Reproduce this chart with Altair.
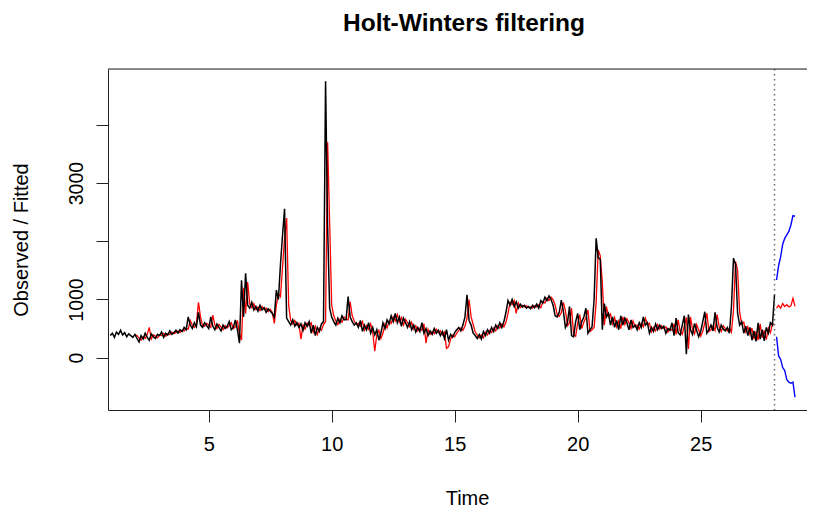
import altair as alt
import pandas as pd

# ---- data (monthly series, years 1..28) ----
obs_y1 = [380, 420, 350, 440, 400, 470, 390, 430, 360, 410, 380, 350]
obs_y2 = [400, 330, 270, 380, 320, 420, 350, 300, 410, 360, 330, 400]
obs_y3 = [380, 440, 350, 420, 390, 460, 400, 430, 470, 420, 480, 450]
obs_y4 = [520, 480, 700, 560, 500, 600, 530, 780, 560, 520, 600, 550]
obs_y5 = [500, 700, 540, 480, 580, 520, 460, 560, 500, 540, 620, 480]
obs_y6 = [520, 650, 480, 250, 1330, 700, 1450, 900, 850, 950, 820, 880]
obs_y7 = [800, 900, 820, 860, 780, 840, 800, 760, 700, 1160, 1000, 1600]
obs_y8 = [2100, 2560, 680, 620, 560, 650, 540, 600, 520, 580, 470, 600]
obs_y9 = [540, 620, 420, 560, 380, 520, 450, 580, 620, 4750, 2250, 850]
obs_y10 = [700, 620, 560, 680, 600, 720, 650, 650, 1050, 700, 620, 560]
obs_y11 = [600, 520, 640, 450, 560, 480, 600, 420, 520, 390, 480, 300]
obs_y12 = [420, 600, 500, 650, 580, 720, 620, 760, 600, 700, 540, 680]
obs_y13 = [600, 520, 620, 480, 560, 440, 520, 450, 600, 420, 500, 380]
obs_y14 = [460, 400, 500, 420, 470, 380, 450, 330, 480, 300, 400, 350]
obs_y15 = [430, 480, 520, 460, 560, 700, 1080, 640, 560, 420, 380, 330]
obs_y16 = [400, 320, 450, 380, 480, 420, 520, 450, 560, 500, 600, 520]
obs_y17 = [620, 780, 980, 900, 1000, 880, 960, 850, 920, 870, 900, 850]
obs_y18 = [880, 840, 900, 860, 920, 850, 980, 940, 1040, 980, 1060, 1000]
obs_y19 = [900, 720, 700, 780, 990, 800, 520, 600, 880, 380, 360, 620]
obs_y20 = [760, 480, 620, 700, 850, 420, 480, 530, 1000, 2050, 1720, 1690]
obs_y21 = [480, 930, 700, 760, 560, 700, 520, 640, 480, 720, 560, 680]
obs_y22 = [600, 480, 650, 520, 560, 480, 600, 520, 700, 560, 600, 420]
obs_y23 = [520, 450, 580, 480, 560, 500, 540, 420, 500, 470, 600, 380]
obs_y24 = [680, 430, 390, 560, 720, 60, 740, 480, 400, 590, 470, 360]
obs_y25 = [450, 620, 790, 420, 480, 560, 460, 780, 520, 440, 560, 490]
obs_y26 = [460, 520, 420, 880, 1710, 1600, 760, 560, 620, 420, 540, 380]
obs_y27 = [520, 300, 460, 280, 600, 320, 480, 290, 520, 420, 600, 560]
obs_y28 = [1080]

fit_y2 = [390, 380, 340, 300, 360, 330, 400, 520, 320, 390, 370, 340]
fit_y3 = [390, 380, 420, 370, 410, 400, 440, 410, 430, 460, 430, 470]
fit_y4 = [460, 500, 490, 640, 560, 520, 580, 950, 700, 550, 540, 590]
fit_y5 = [560, 520, 730, 560, 500, 570, 530, 480, 550, 510, 550, 600]
fit_y6 = [500, 530, 640, 420, 300, 1200, 760, 1300, 920, 860, 930, 830]
fit_y7 = [870, 810, 880, 830, 850, 790, 830, 780, 590, 900, 1100, 1050]
fit_y8 = [1550, 2050, 2400, 900, 640, 580, 640, 560, 590, 320, 560, 490]
fit_y9 = [590, 550, 600, 440, 540, 400, 510, 470, 570, 620, 3700, 2300]
fit_y10 = [900, 720, 630, 570, 660, 610, 700, 660, 650, 960, 720, 630]
fit_y11 = [570, 590, 540, 620, 470, 550, 490, 580, 440, 110, 400, 470]
fit_y12 = [330, 420, 580, 510, 630, 590, 700, 630, 740, 610, 690, 560]
fit_y13 = [660, 600, 530, 610, 490, 550, 460, 510, 470, 580, 250, 490]
fit_y14 = [400, 450, 410, 490, 430, 460, 390, 440, 160, 190, 320, 390]
fit_y15 = [360, 420, 470, 510, 470, 540, 680, 1000, 700, 570, 440, 390]
fit_y16 = [340, 390, 340, 440, 390, 470, 430, 510, 460, 550, 510, 580]
fit_y17 = [530, 610, 760, 950, 910, 980, 760, 940, 860, 900, 870, 890]
fit_y18 = [860, 870, 850, 890, 870, 910, 860, 960, 940, 1020, 980, 1040]
fit_y19 = [1000, 900, 740, 710, 770, 950, 810, 550, 600, 850, 400, 370]
fit_y20 = [600, 740, 500, 610, 690, 820, 450, 480, 520, 950, 1850, 1750]
fit_y21 = [1300, 560, 880, 710, 750, 580, 690, 530, 630, 500, 700, 570]
fit_y22 = [670, 600, 500, 630, 530, 560, 490, 590, 530, 680, 570, 590]
fit_y23 = [440, 520, 460, 570, 490, 550, 500, 530, 440, 500, 470, 580]
fit_y24 = [400, 650, 450, 400, 550, 690, 150, 700, 490, 410, 570, 480]
fit_y25 = [370, 450, 600, 760, 450, 480, 550, 470, 740, 530, 450, 550]
fit_y26 = [500, 460, 510, 440, 820, 1650, 1500, 780, 580, 610, 440, 530]
fit_y27 = [400, 510, 320, 450, 300, 580, 340, 470, 310, 510, 430, 580]
fit_y28 = [570]

pred_fit = [850, 900, 850, 930, 880, 910, 870, 890, 1020, 880]
pred_upr = [1335, 1580, 1735, 1950, 2050, 2110, 2170, 2280, 2440, 2430]
pred_lwr = [360, 30, -30, -170, -220, -380, -420, -440, -420, -680]

x_ticks = [5, 10, 15, 20, 25]
y_ticks = [0, 1000, 2000, 3000, 4000]
y_labelled = [0, 1000, 3000]
forecast_start = 28.0
freq = 12

obs_years = [obs_y1, obs_y2, obs_y3, obs_y4, obs_y5, obs_y6, obs_y7, obs_y8, obs_y9,
             obs_y10, obs_y11, obs_y12, obs_y13, obs_y14, obs_y15, obs_y16, obs_y17,
             obs_y18, obs_y19, obs_y20, obs_y21, obs_y22, obs_y23, obs_y24, obs_y25,
             obs_y26, obs_y27, obs_y28]
fit_years = [fit_y2, fit_y3, fit_y4, fit_y5, fit_y6, fit_y7, fit_y8, fit_y9, fit_y10,
             fit_y11, fit_y12, fit_y13, fit_y14, fit_y15, fit_y16, fit_y17, fit_y18,
             fit_y19, fit_y20, fit_y21, fit_y22, fit_y23, fit_y24, fit_y25, fit_y26,
             fit_y27, fit_y28]


def to_frame(years, first_year):
    rows = []
    for yi, vals in enumerate(years):
        for m, v in enumerate(vals):
            rows.append({"t": first_year + yi + m / freq, "v": v})
    return pd.DataFrame(rows)


obs_df = to_frame(obs_years, 1)
fit_df = to_frame(fit_years, 2)
pred_df = pd.DataFrame({
    "t": [forecast_start + (k + 1) / freq for k in range(len(pred_fit))],
    "fit": pred_fit, "upr": pred_upr, "lwr": pred_lwr,
})

FONT = "Liberation Sans"
W, H = 699, 341
xscale = alt.Scale(domain=[0.906, 29.321], nice=False, zero=False)
yscale = alt.Scale(domain=[-899, 4960], nice=False, zero=False)

label_test = " || ".join(f"datum.value == {v}" for v in y_labelled)

xaxis = alt.Axis(values=x_ticks, title="Time", grid=False, tickSize=12,
                 labelFontSize=20, titleFontSize=20, titleFontWeight="normal",
                 labelFont=FONT, titleFont=FONT, labelColor="black", titleColor="black",
                 domainColor="#222", tickColor="#222", labelPadding=12,
                 titlePadding=34, titleX=359, labelFlush=False)
yaxis = alt.Axis(values=y_ticks, title="Observed / Fitted", grid=False, tickSize=12,
                 labelExpr=f"({label_test}) ? datum.label : ''", format="d",
                 labelAngle=270, labelAlign="center", labelBaseline="bottom",
                 labelFontSize=19.5, titleFontSize=20, titleFontWeight="normal",
                 labelFont=FONT, titleFont=FONT, labelColor="black", titleColor="black",
                 domainColor="#222", tickColor="#222", labelPadding=10,
                 titlePadding=35, labelFlush=False)

fit_line = alt.Chart(fit_df).mark_line(color="#FF0000", strokeWidth=1.3).encode(
    x=alt.X("t:Q", scale=xscale, axis=xaxis),
    y=alt.Y("v:Q", scale=yscale, axis=yaxis),
)
obs_line = alt.Chart(obs_df).mark_line(color="black", strokeWidth=1.5).encode(
    x=alt.X("t:Q", scale=xscale),
    y=alt.Y("v:Q", scale=yscale),
)
pred_line = alt.Chart(pred_df).mark_line(color="#FF0000", strokeWidth=1.3).encode(
    x=alt.X("t:Q", scale=xscale), y=alt.Y("fit:Q", scale=yscale))
upr_line = alt.Chart(pred_df).mark_line(color="#0000FF", strokeWidth=1.4).encode(
    x=alt.X("t:Q", scale=xscale), y=alt.Y("upr:Q", scale=yscale))
lwr_line = alt.Chart(pred_df).mark_line(color="#0000FF", strokeWidth=1.4).encode(
    x=alt.X("t:Q", scale=xscale), y=alt.Y("lwr:Q", scale=yscale))

vline = alt.Chart(pd.DataFrame({"t": [forecast_start]})).mark_rule(
    color="#666", strokeDash=[1.5, 3.5], strokeWidth=1.5).encode(
    x=alt.X("t:Q", scale=xscale), y=alt.value(0), y2=alt.value(H))

top_frame = alt.Chart(pd.DataFrame({"a": [0]})).mark_rule(color="#222", strokeWidth=1).encode(
    x=alt.value(0), x2=alt.value(W), y=alt.value(0))

chart = alt.layer(fit_line, obs_line, pred_line, upr_line, lwr_line, vline, top_frame).properties(
    width=W, height=H,
    title=alt.TitleParams("Holt-Winters filtering", fontSize=24.5, fontWeight="bold",
                          font=FONT, anchor="middle", offset=32, dx=6.5, color="black"),
    autosize=alt.AutoSizeParams(type="none"),
    padding={"left": 100, "top": 61, "right": 0, "bottom": 97},
).configure_view(stroke=None).configure(background="white")

chart.save("out.html", embed_options={"renderer": "svg", "actions": False})
